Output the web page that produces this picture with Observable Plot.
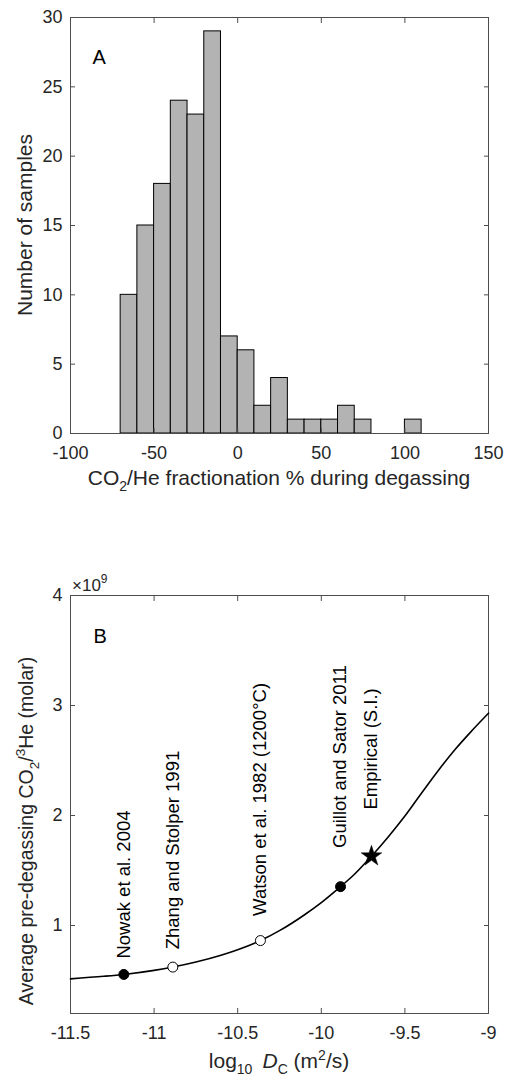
<!DOCTYPE html>
<html><head><meta charset="utf-8">
<script src="https://cdn.jsdelivr.net/npm/d3@7"></script>
<script src="https://cdn.jsdelivr.net/npm/@observablehq/plot@0.6"></script>
<style>body{margin:0;background:#fff;} svg{display:block;}</style>
</head><body><div id="chart"></div>
<script>
// ---------- Panel A data ----------
const binEdges  = [-70,-60,-50,-40,-30,-20,-10,0,10,20,30,40,50,60,70,80,90,100,110];
const binCounts = [10,15,18,24,23,29,7,6,2,4,1,1,1,2,1,0,0,1];
const xTicksA = [-100,-50,0,50,100,150];
const yTicksA = [0,5,10,15,20,25,30];

// ---------- Panel B data ----------
const curveLogD  = [-11.5,-11.3,-11.181,-11.0,-10.888,-10.75,-10.6,-10.5,-10.364,-10.25,-10.1,-10.0,-9.885,-9.8,-9.7,-9.6,-9.5,-9.4,-9.3,-9.2,-9.1,-9.0];
const curveRatio = [0.515,0.538,0.555,0.592,0.622,0.668,0.73,0.78,0.863,0.953,1.098,1.208,1.353,1.468,1.63,1.805,1.995,2.205,2.41,2.6,2.77,2.93];
const refNames  = ["Nowak et al. 2004","Zhang and Stolper 1991","Watson et al. 1982 (1200°C)","Guillot and Sator 2011","Empirical (S.I.)"];
const refLogD   = [-11.181,-10.888,-10.364,-9.885,-9.70];
const refRatio  = [0.555,0.622,0.863,1.353,1.63];
const refMarker = ["filled","open","open","filled","star"];
const xTicksB = [-11.5,-11,-10.5,-10,-9.5,-9];
const yTicksB = [1,2,3,4];

const FONT = "'Liberation Sans', Arial, Helvetica, sans-serif";
const INK = "#262626";
const FRAME = "#4d4d4d";
const TICKFONT = 18;

const bins = binCounts.map((c, i) => ({x1: binEdges[i], x2: binEdges[i + 1], count: c})).filter(d => d.count > 0);
const curve = curveLogD.map((x, i) => ({x, y: curveRatio[i]}));
const refs = refNames.map((name, i) => ({name, x: refLogD[i], y: refRatio[i], marker: refMarker[i]}));

const fmt = d => String(d);

function frameAxes(xt, yt) {
  return [
    Plot.frame({stroke: FRAME, strokeWidth: 1}),
    Plot.axisX(xt, {anchor: "bottom", tickSize: -5, tickPadding: 18, label: null, stroke: FRAME, fill: INK, fontSize: TICKFONT, tickFormat: fmt}),
    Plot.axisX(xt, {anchor: "top", tickSize: -5, label: null, stroke: FRAME, tickFormat: () => ""}),
    Plot.axisY(yt, {anchor: "left", tickSize: -5, tickPadding: 13, label: null, stroke: FRAME, fill: INK, fontSize: TICKFONT, tickFormat: fmt}),
    Plot.axisY(yt, {anchor: "right", tickSize: -5, label: null, stroke: FRAME, tickFormat: () => ""})
  ];
}

const plotA = Plot.plot({
  width: 511, height: 500,
  marginLeft: 70, marginRight: 23, marginTop: 17, marginBottom: 67,
  style: {fontFamily: FONT, fontSize: "18px", color: INK, background: "#fff"},
  x: {domain: [-100, 150]},
  y: {domain: [0, 30]},
  marks: [
    Plot.rectY(bins, {x1: "x1", x2: "x2", y: "count", fill: "#b3b3b3", stroke: "#000", strokeWidth: 1, inset: 0}),
    ...frameAxes(xTicksA, yTicksA),
    Plot.text(["A"], {frameAnchor: "top-left", dx: 22, dy: 32, fontSize: 20, textAnchor: "start", fill: "#000"})
  ]
});

const plotB = Plot.plot({
  width: 511, height: 580,
  marginLeft: 70, marginRight: 23, marginTop: 95, marginBottom: 67,
  style: {fontFamily: FONT, fontSize: "18px", color: INK, background: "#fff"},
  x: {domain: [-11.5, -9]},
  y: {domain: [0.2, 4]},
  marks: [
    ...frameAxes(xTicksB, yTicksB),
    Plot.line(curve, {x: "x", y: "y", curve: "monotone-x", stroke: "#000", strokeWidth: 1.6}),
    Plot.dot(refs.filter(d => d.marker !== "star"), {x: "x", y: "y", r: 5, stroke: "#000", strokeWidth: 1, fill: d => d.marker === "filled" ? "#000" : "#fff"}),
    Plot.dot(refs.filter(d => d.marker === "star"), {x: "x", y: "y", symbol: "star", r: 6.5, fill: "#000", stroke: "#000", strokeWidth: 0.5}),
    Plot.text(refs, {x: "x", y: d => d.y * 1.26, text: "name", rotate: -90, textAnchor: "start", fontSize: 18.5, fill: "#000"}),
    Plot.text(["B"], {frameAnchor: "top-left", dx: 23, dy: 33, fontSize: 20, textAnchor: "start", fill: "#000"})
  ]
});

const host = document.getElementById("chart");
host.appendChild(plotA);
host.appendChild(plotB);

// ---------- Axis titles with sub/superscripts ----------
const sA = d3.select(plotA);
const tA = sA.append("text").attr("x", 279).attr("y", 485).attr("text-anchor", "middle")
  .attr("font-size", 21).attr("fill", INK);
tA.append("tspan").text("CO");
tA.append("tspan").attr("font-size", 14).attr("dy", 6).text("2");
tA.append("tspan").attr("dy", -6).text("/He fractionation % during degassing");

sA.append("text").attr("transform", "translate(32,225) rotate(-90)").attr("text-anchor", "middle")
  .attr("font-size", 21).attr("fill", INK).text("Number of samples");

const sB = d3.select(plotB);
const tm = sB.append("text").attr("x", 72).attr("y", 91).attr("text-anchor", "start")
  .attr("font-size", 17).attr("fill", INK);
tm.append("tspan").text("×10");
tm.append("tspan").attr("font-size", 12).attr("dy", -8).text("9");

const yl = sB.append("text").attr("transform", "translate(33,331) rotate(-90)").attr("text-anchor", "middle")
  .attr("font-size", 19.5).attr("fill", INK);
yl.append("tspan").text("Average pre-degassing CO");
yl.append("tspan").attr("font-size", 13.5).attr("dy", 6).text("2");
yl.append("tspan").attr("dy", -6).text("/");
yl.append("tspan").attr("font-size", 13.5).attr("dy", -8).text("3");
yl.append("tspan").attr("dy", 8).text("He (molar)");

const xl = sB.append("text").attr("x", 279).attr("y", 568).attr("text-anchor", "middle")
  .attr("font-size", 21).attr("fill", INK);
xl.append("tspan").text("log");
xl.append("tspan").attr("font-size", 14).attr("dy", 6).text("10");
xl.append("tspan").attr("dy", -6).text("\u2009 ");
xl.append("tspan").attr("font-style", "italic").text("D");
xl.append("tspan").attr("font-size", 14).attr("dy", 6).text("C");
xl.append("tspan").attr("dy", -6).text(" (m");
xl.append("tspan").attr("font-size", 14).attr("dy", -8).text("2");
xl.append("tspan").attr("dy", 8).text("/s)");
</script>
</body></html>
